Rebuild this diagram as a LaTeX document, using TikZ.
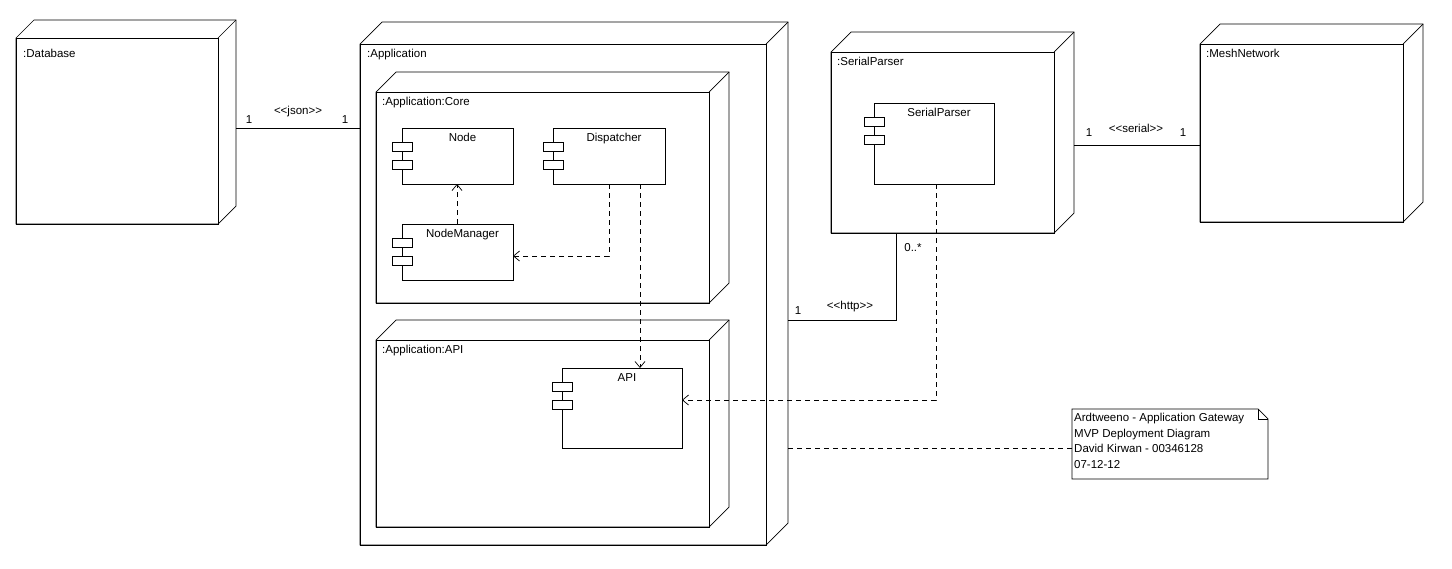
\documentclass[tikz,border=0pt]{standalone}
\usepackage{fontspec}
\setmainfont{Liberation Sans}
\usetikzlibrary{arrows.meta}
\begin{document}
\begin{tikzpicture}[x=1pt,y=-1pt,
  every node/.style={font=\fontsize{11.5}{13}\selectfont,inner sep=0pt},
  ln/.style={line width=0.7pt},
  dep/.style={ln,dashed,dash pattern=on 5pt off 4pt,-{Straight Barb[length=6pt,width=10pt]}},
  lbl/.style={anchor=north west}]
\useasboundingbox (0,0) rectangle (1452,568);
\newcommand{\boxnode}[6]{%
  \draw[ln,fill=white] (#2,#3) -- (#2+#6,#3-#6) -- (#4+#6,#3-#6) -- (#4+#6,#5-#6) -- (#4,#5) -- (#2,#5) -- cycle;
  \draw[ln] (#2,#3) rectangle (#4,#5);
  \draw[ln] (#4,#3) -- (#4+#6,#3-#6);
  \coordinate (#1) at (#2,#3);}
\newcommand{\comp}[6]{%
  \draw[ln,fill=white] (#2,#3) rectangle (#4,#5);
  \draw[ln,fill=white] (#2-10,#3+14) rectangle (#2+10,#3+23);
  \draw[ln,fill=white] (#2-10,#3+32) rectangle (#2+10,#3+41);
  \node[anchor=north] (#1) at ({(#2+#4)/2+5},#3+5) {#6};}
\boxnode{db}{16}{38}{218}{224}{18}
\node[lbl] (dbl) at (23,49) {:Database};
\boxnode{app}{360}{44}{766}{545}{22}
\node[lbl] (appl) at (367,49) {:Application};
\boxnode{core}{376}{92}{709}{303}{20}
\node[lbl] (corel) at (382,97) {:Application:Core};
\boxnode{api}{376}{340}{709}{527}{20}
\node[lbl] (apil) at (382,345) {:Application:API};
\boxnode{sp}{831}{52}{1054}{233}{20}
\node[lbl] (spl) at (837,57) {:SerialParser};
\boxnode{mesh}{1200}{44}{1403}{222}{20}
\node[lbl] (meshl) at (1206,49) {:MeshNetwork};
\comp{nodec}{402}{128}{513}{184}{Node}
\comp{disp}{553}{128}{665}{184}{Dispatcher}
\comp{nm}{402}{224}{513}{280}{NodeManager}
\comp{apic}{562}{368}{682}{448}{API}
\comp{spc}{874}{103}{994}{184}{SerialParser}
\coordinate (a1) at (236,128); \coordinate (a2) at (360,128);
\draw[ln] (a1) -- (a2);
\node (j1) at (249,120) {1}; \node (j2) at (298,112) {<{}<json>{}>}; \node (j3) at (345,120) {1};
\coordinate (b1) at (1074,145); \coordinate (b2) at (1200,145);
\draw[ln] (b1) -- (b2);
\node (s1) at (1089,133) {1}; \node (s2) at (1136,128) {<{}<serial>{}>}; \node (s3) at (1183,133) {1};
\coordinate (c1) at (788,320); \coordinate (c2) at (896,233);
\draw[ln] (c1) -- (896,320) -- (c2);
\node (h1) at (798,311) {1}; \node (h2) at (850,307) {<{}<http>{}>}; \node (h3) at (913,248) {0..*};
\coordinate (d1) at (457,224); \coordinate (d2) at (457,184);
\draw[dep] (d1) -- (d2);
\coordinate (e1) at (609,184); \coordinate (e2) at (513,256);
\draw[dep] (e1) -- (609,256) -- (e2);
\coordinate (f1) at (640,184); \coordinate (f2) at (640,368);
\draw[dep] (f1) -- (f2);
\coordinate (g1) at (936,184); \coordinate (g2) at (682,400);
\draw[dep] (g1) -- (936,400) -- (g2);
\draw[ln,fill=white] (1072,409) -- (1258,409) -- (1268,419) -- (1268,479) -- (1072,479) -- cycle;
\draw[ln] (1258,409) -- (1258,419) -- (1268,419);
\node[anchor=north west,align=left,font=\fontsize{11.5}{15.5}\selectfont] (note) at (1074,413)
  {Ardtweeno - Application Gateway\\MVP Deployment Diagram\\David Kirwan - 00346128\\07-12-12};
\coordinate (n1) at (788,448); \coordinate (n2) at (1072,448);
\draw[ln,dashed,dash pattern=on 5pt off 4pt] (n1) -- (n2);
\end{tikzpicture}
\end{document}
